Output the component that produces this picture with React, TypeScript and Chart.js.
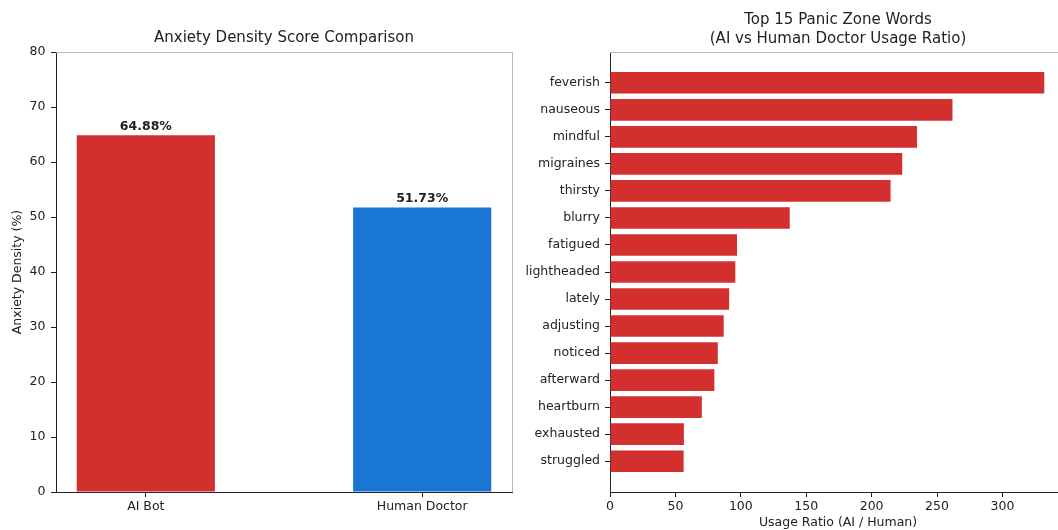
import React, { useEffect, useRef } from "react";
import { Chart, registerables } from "chart.js";

Chart.register(...registerables);

// ---------- data ----------
const groups = ["AI Bot", "Human Doctor"];
const densityValues = [64.88, 51.73];
const densityColors = ["#d32f2f", "#1976d2"];
const densityTicks = [0, 10, 20, 30, 40, 50, 60, 70, 80];

const words = [
  "feverish",
  "nauseous",
  "mindful",
  "migraines",
  "thirsty",
  "blurry",
  "fatigued",
  "lightheaded",
  "lately",
  "adjusting",
  "noticed",
  "afterward",
  "heartburn",
  "exhausted",
  "struggled",
];
const ratios = [332, 261.8, 234.7, 223.4, 214.5, 137.4, 97.1, 95.8, 91.1, 86.9, 82.4, 79.8, 70.2, 56.5, 56.3];
const ratioTicks = [0, 50, 100, 150, 200, 250, 300];

// ---------- styles ----------
const FONT = "'DejaVu Sans', 'Liberation Sans', sans-serif";
const TEXT = "#222222";
const AXIS = "#222222";
const SPINE_LIGHT = "#b8b8b8";
const BAR_RED = "#d32f2f";

const tickFont = { family: FONT, size: 12.5, weight: "normal" as const, lineHeight: 1.2 };
const titleFont = { family: FONT, size: 15, weight: "normal" as const, lineHeight: 1.25 };

const lightFrame = {
  id: "lightFrame",
  afterDraw(chart: any) {
    const { ctx, chartArea: a } = chart;
    ctx.save();
    ctx.strokeStyle = SPINE_LIGHT;
    ctx.lineWidth = 1;
    ctx.beginPath();
    ctx.moveTo(a.left, Math.round(a.top) + 0.5);
    ctx.lineTo(Math.round(a.right) + 0.5, Math.round(a.top) + 0.5);
    ctx.lineTo(Math.round(a.right) + 0.5, a.bottom);
    ctx.stroke();
    ctx.restore();
  },
};

const valueLabels = {
  id: "valueLabels",
  afterDatasetsDraw(chart: any) {
    const { ctx } = chart;
    const meta = chart.getDatasetMeta(0);
    ctx.save();
    ctx.fillStyle = TEXT;
    ctx.font = `bold 12.5px ${FONT}`;
    ctx.textAlign = "center";
    ctx.textBaseline = "alphabetic";
    meta.data.forEach((bar: any, i: number) => {
      ctx.fillText(`${densityValues[i].toFixed(2)}%`, bar.x, bar.y - 5);
    });
    ctx.restore();
  },
};

function leftConfig(): any {
  return {
    type: "bar",
    data: {
      datasets: [
        {
          data: groups.map((_, i) => ({ x: i, y: densityValues[i] })),
          backgroundColor: densityColors,
          borderWidth: 0,
          categoryPercentage: 1,
          barPercentage: 0.5,
        },
      ],
    },
    plugins: [lightFrame, valueLabels],
    options: {
      animation: false,
      responsive: false,
      events: [],
      layout: { padding: { left: 0, right: 18, top: 0, bottom: 0 } },
      plugins: {
        legend: { display: false },
        tooltip: { enabled: false },
        title: {
          display: true,
          text: "Anxiety Density Score Comparison",
          fullSize: false,
          color: TEXT,
          font: titleFont,
          padding: { top: 29, bottom: 4.25 },
        },
      },
      scales: {
        x: {
          type: "linear",
          min: -0.325,
          max: 1.325,
          offset: false,
          afterFit: (s: any) => {
            s.height = 38;
          },
          afterBuildTicks: (s: any) => {
            s.ticks = groups.map((_, i) => ({ value: i }));
          },
          ticks: {
            callback: (v: any) => groups[v] ?? "",
            color: TEXT,
            font: tickFont,
            padding: 2,
            maxRotation: 0,
            autoSkip: false,
          },
          grid: { display: true, offset: false, drawOnChartArea: false, drawTicks: true, tickLength: 5, tickColor: AXIS },
          border: { display: true, color: AXIS, width: 1 },
        },
        y: {
          type: "linear",
          min: 0,
          max: 80,
          afterFit: (s: any) => {
            s.width = 56;
          },
          afterBuildTicks: (s: any) => {
            s.ticks = densityTicks.map((v) => ({ value: v }));
          },
          ticks: { color: TEXT, font: tickFont, padding: 5.5, autoSkip: false },
          grid: { display: true, drawOnChartArea: false, drawTicks: true, tickLength: 5, tickColor: AXIS },
          border: { display: true, color: AXIS, width: 1 },
          title: {
            display: true,
            text: "Anxiety Density (%)",
            color: TEXT,
            font: tickFont,
            padding: { top: 10, bottom: 0 },
          },
        },
      },
    },
  };
}

function rightConfig(): any {
  return {
    type: "bar",
    data: {
      datasets: [
        {
          data: words.map((_, i) => ({ x: ratios[i], y: i })),
          backgroundColor: BAR_RED,
          borderWidth: 0,
          categoryPercentage: 1,
          barPercentage: 0.8,
        },
      ],
    },
    plugins: [lightFrame],
    options: {
      indexAxis: "y",
      animation: false,
      responsive: false,
      events: [],
      layout: { padding: { left: 0, right: 24, top: 0, bottom: 0 } },
      plugins: {
        legend: { display: false },
        tooltip: { enabled: false },
        title: {
          display: true,
          text: ["Top 15 Panic Zone Words", "(AI vs Human Doctor Usage Ratio)"],
          fullSize: false,
          color: TEXT,
          font: titleFont,
          padding: { top: 10.8, bottom: 3.7 },
        },
      },
      scales: {
        y: {
          type: "linear",
          min: -1.14,
          max: 15.14,
          reverse: true,
          offset: false,
          afterFit: (s: any) => {
            s.width = 110;
          },
          afterBuildTicks: (s: any) => {
            s.ticks = words.map((_, i) => ({ value: i }));
          },
          ticks: {
            callback: (v: any) => words[v] ?? "",
            color: TEXT,
            font: tickFont,
            padding: 5,
            autoSkip: false,
          },
          grid: { display: true, offset: false, drawOnChartArea: false, drawTicks: true, tickLength: 5, tickColor: AXIS },
          border: { display: true, color: AXIS, width: 1 },
        },
        x: {
          type: "linear",
          min: 0,
          max: Math.max(...ratios) * 1.05,
          afterFit: (s: any) => {
            s.height = 38;
          },
          afterBuildTicks: (s: any) => {
            s.ticks = ratioTicks.map((v) => ({ value: v }));
          },
          ticks: { color: TEXT, font: tickFont, padding: 2, maxRotation: 0, autoSkip: false },
          grid: { display: true, drawOnChartArea: false, drawTicks: true, tickLength: 5, tickColor: AXIS },
          border: { display: true, color: AXIS, width: 1 },
          title: {
            display: true,
            text: "Usage Ratio (AI / Human)",
            color: TEXT,
            font: tickFont,
            padding: { top: 0, bottom: 0 },
          },
        },
      },
    },
  };
}

export default function App() {
  const leftRef = useRef<HTMLCanvasElement>(null);
  const rightRef = useRef<HTMLCanvasElement>(null);

  useEffect(() => {
    const c1 = new Chart(leftRef.current as HTMLCanvasElement, leftConfig());
    const c2 = new Chart(rightRef.current as HTMLCanvasElement, rightConfig());
    return () => {
      c1.destroy();
      c2.destroy();
    };
  }, []);

  return (
    <div
      style={{
        position: "fixed",
        left: 0,
        top: 0,
        width: 1058,
        height: 530,
        overflow: "hidden",
        background: "#ffffff",
      }}
    >
      <canvas
        ref={leftRef}
        width={530}
        height={530}
        style={{ position: "absolute", left: 0, top: 0, width: 530, height: 530 }}
      />
      <canvas
        ref={rightRef}
        width={590}
        height={530}
        style={{ position: "absolute", left: 500, top: 0, width: 590, height: 530 }}
      />
    </div>
  );
}
